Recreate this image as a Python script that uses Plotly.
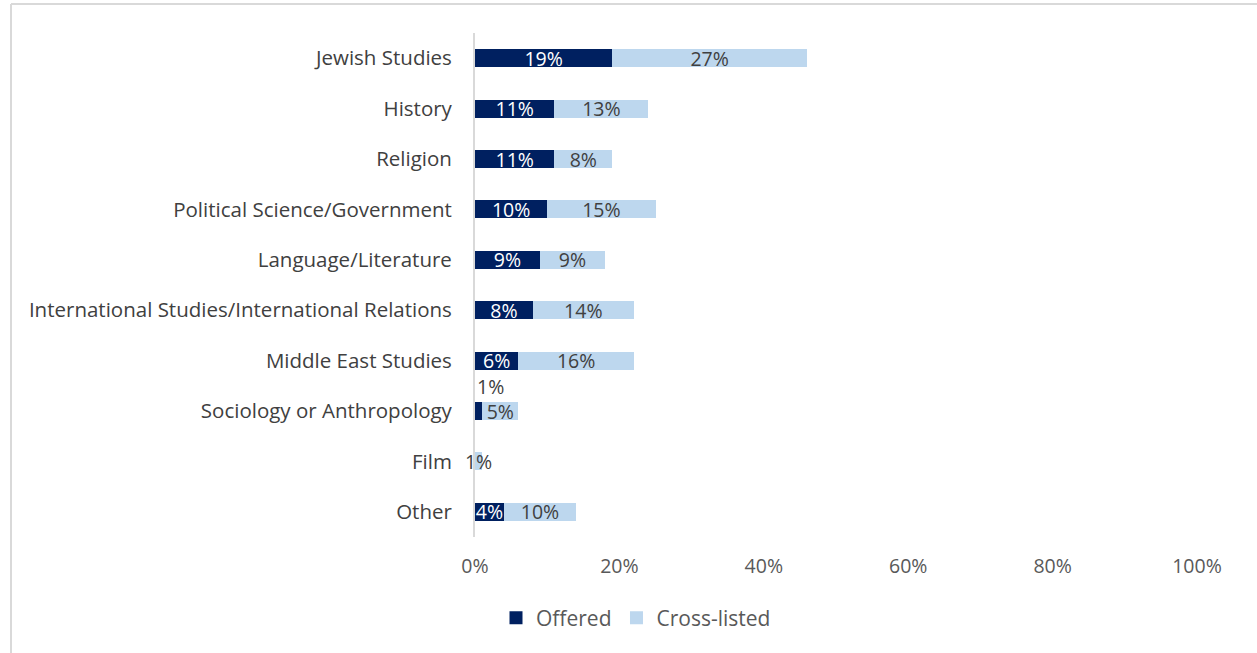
import plotly.graph_objects as go

categories = [
    "Jewish Studies",
    "History",
    "Religion",
    "Political Science/Government",
    "Language/Literature",
    "International Studies/International Relations",
    "Middle East Studies",
    "Sociology or Anthropology",
    "Film",
    "Other",
]
offered = [19, 11, 11, 10, 9, 8, 6, 1, 0, 4]
cross_listed = [27, 13, 8, 15, 9, 14, 16, 5, 1, 10]
x_ticks = [0, 20, 40, 60, 80, 100]

FONT = "Open Sans"
FS = 19.5        # bar values and axis ticks
FS_CAT = 20.5    # category names
FS_LEG = 21      # legend
NAVY = "#002060"
LIGHT = "#BDD7EE"

W, H = 1257, 653
L, R, T, B = 475, 60, 33, 116
plot_w = W - L - R
plot_h = H - T - B

# small offered values sit above their bar instead of inside it
SMALL = 2
offered_text = [f"{v}%" if v >= SMALL else "" for v in offered]
cross_text = [f"{v}%" if v > 0 else "" for v in cross_listed]

fig = go.Figure()
fig.add_trace(go.Bar(
    y=categories, x=[v / 100 for v in offered], orientation="h",
    name="Offered", marker=dict(color=NAVY, line=dict(width=0)),
    text=offered_text, textposition="inside", insidetextanchor="middle",
    textangle=0, textfont=dict(color="white", size=FS, family=FONT),
    constraintext="none", cliponaxis=False, hoverinfo="skip",
    showlegend=False,
))
fig.add_trace(go.Bar(
    y=categories, x=[v / 100 for v in cross_listed], orientation="h",
    name="Cross-listed", marker=dict(color=LIGHT, line=dict(width=0)),
    text=cross_text, textposition="inside", insidetextanchor="middle",
    textangle=0, textfont=dict(color="#404040", size=FS, family=FONT),
    constraintext="none", cliponaxis=False, hoverinfo="skip",
    showlegend=False,
))

# legend entries with square swatches
for name, color in (("Offered", NAVY), ("Cross-listed", LIGHT)):
    fig.add_trace(go.Scatter(
        x=[None], y=[None], mode="markers", name=name,
        marker=dict(symbol="square", size=13, color=color),
        hoverinfo="skip",
    ))

for cat, v in zip(categories, offered):
    if 0 < v < SMALL:
        fig.add_annotation(
            x=0, y=cat, text=f"{v}%", showarrow=False, xanchor="left",
            yshift=25, font=dict(color="#404040", size=FS, family=FONT),
        )

# outer frame of the chart area
px_x = lambda p: (p - L) / plot_w
px_y = lambda p: (H - B - p) / plot_h
frame = dict(color="#D9D9D9", width=2)
fig.add_shape(type="line", xref="paper", yref="paper",
              x0=px_x(11), x1=px_x(W + 5), y0=px_y(4), y1=px_y(4), line=frame)
fig.add_shape(type="line", xref="paper", yref="paper",
              x0=px_x(11), x1=px_x(11), y0=px_y(4), y1=px_y(H + 5), line=frame)

fig.update_layout(
    barmode="stack",
    bargap=0.64,
    width=W, height=H,
    margin=dict(l=L, r=R, t=T, b=B, pad=0),
    paper_bgcolor="white", plot_bgcolor="white",
    font=dict(family=FONT, size=FS, color="#595959"),
    showlegend=True,
    legend=dict(
        orientation="h", x=px_x(636), xanchor="center",
        y=px_y(618), yanchor="middle",
        font=dict(size=FS_LEG, color="#595959", family=FONT),
        itemwidth=30, traceorder="normal",
    ),
    xaxis=dict(
        range=[0, 1], tickvals=[t / 100 for t in x_ticks],
        ticktext=[f"{t}%" for t in x_ticks],
        showgrid=False, zeroline=False, showline=False, ticks="",
        tickfont=dict(size=FS, color="#595959", family=FONT),
        ticklabelstandoff=15, fixedrange=True,
    ),
    yaxis=dict(
        autorange="reversed", showgrid=False, zeroline=False,
        showline=True, linecolor="#D9D9D9", linewidth=2, ticks="",
        tickfont=dict(size=FS_CAT, color="#404040", family=FONT),
        ticklabelstandoff=17, fixedrange=True,
    ),
)

fig.write_html("out.html")
